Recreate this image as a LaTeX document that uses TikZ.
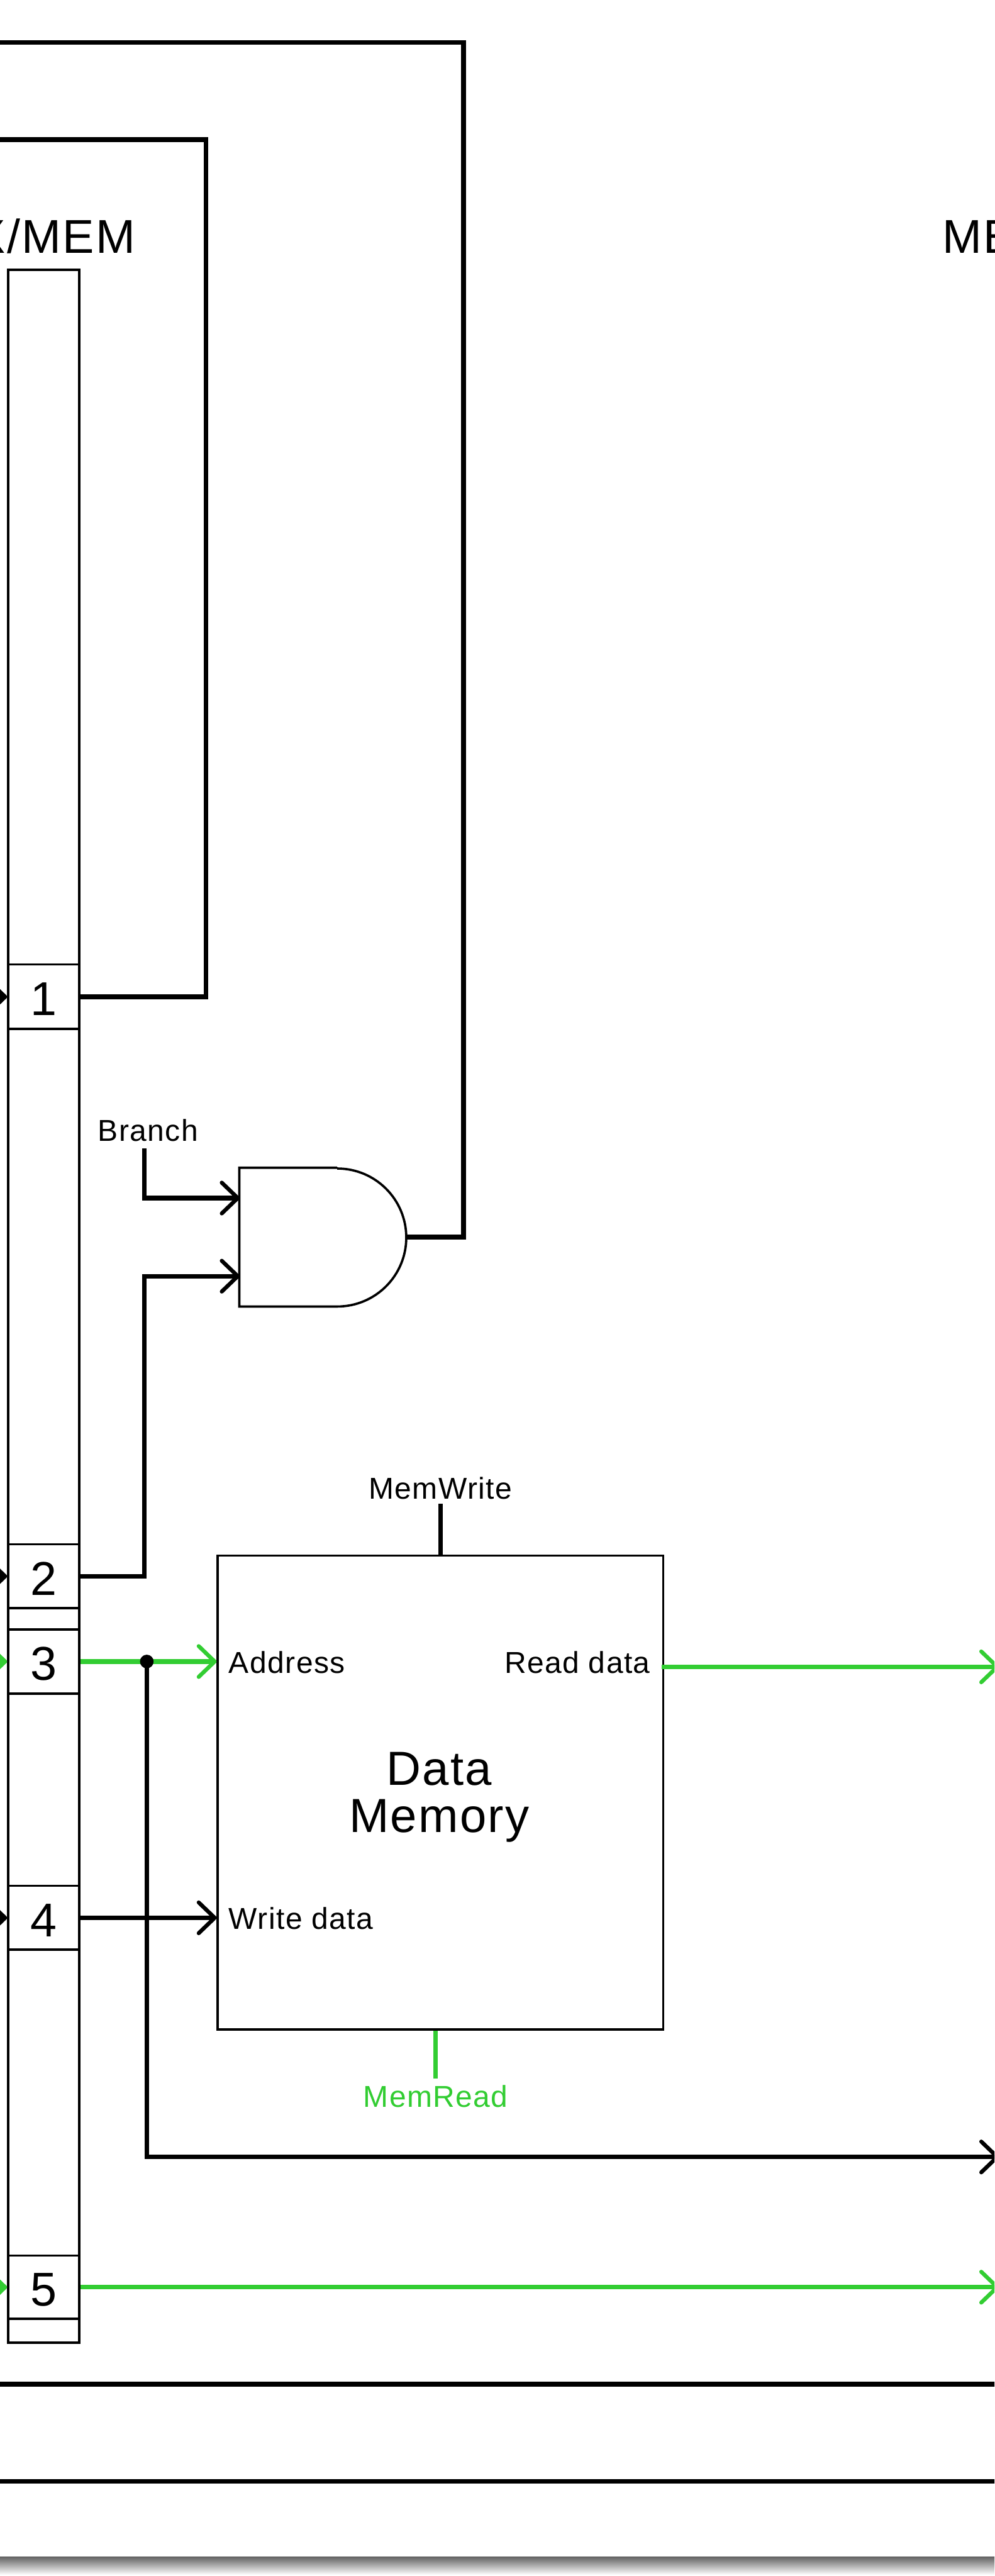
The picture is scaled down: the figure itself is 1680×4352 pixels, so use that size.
\documentclass[tikz,border=0pt]{standalone}
\usepackage{xcolor}
\usepackage{fontspec}
\setmainfont{Liberation Sans}[LetterSpace=3]
\usepackage{tikz}
\usetikzlibrary{positioning, arrows.meta}
\definecolor{sigread}{HTML}{32CD32}

\begin{document}
\begin{tikzpicture}[
      x=0.01cm, y=-0.01cm,
      outer/.style={draw, line width=1.1pt, minimum width=1.2cm, inner sep=0pt},
      cell/.style={draw, line width=1.1pt, minimum width=1.2cm, inner sep=0pt,
      text height=0.7cm, text depth=0.07cm, font=\fontsize{22.8pt}{26pt}\selectfont},
      block/.style={draw, line width=1.1pt, inner sep=0pt},
      lbl/.style={font=\fontsize{14.5pt}{17pt}\selectfont, inner sep=0pt},
      big/.style={font=\fontsize{23pt}{22.8pt}\selectfont, inner sep=0pt, align=center},
      wire/.style={line width=2.2pt},
      sig/.style={wire, -{Straight Barb[length=2.7mm, width=5.2mm, line width=1.9pt, round]}}
    ]
    \useasboundingbox (0,0) rectangle (1680,4352);
    \clip (0,0) rectangle (1680,4352);
    % page edge
    \fill[white] (0,0) rectangle (1680,4320);
    \shade[top color=black!60, bottom color=white] (0,4320) rectangle (1680,4350);

    % EX/MEM register
    \node[outer, minimum height=35cm, anchor=north] (exmem) at (74,454) {};
    \node[cell, minimum height=1.09cm] (one) at (74,1684) {1};
    \node[cell, minimum height=1.08cm] (two) at (74,2663) {2};
    \node[cell, minimum height=1.08cm] (three) at (74,2807) {3};
    \node[cell, minimum height=1.08cm] (four) at (74,3240) {4};
    \node[cell, minimum height=1.07cm] (five) at (74,3864) {5};
    \node[big, font=\fontsize{22.8pt}{26pt}\selectfont, anchor=base east] (regl) at (229,428) {X/MEM};
    \node[big, font=\fontsize{22.8pt}{26pt}\selectfont, anchor=base west] (regr) at (1591,428) {ME};

    % and gate
    \node[minimum width=1.64cm, minimum height=2.33cm, inner sep=0pt] (gate) at (487,2090) {};
    \draw[line width=1.1pt] (gate.north east) -- (gate.north west) -- (gate.south west)
    -- (gate.south east) arc[start angle=-90, end angle=90, radius=1.165cm];
    \coordinate (gatea) at (405,2024);
    \coordinate (gateb) at (405,2156);
    \coordinate (gateout) at (686,2090);
    \node[lbl, anchor=base] (branch) at (250,1928) {Branch};
    \coordinate (branchend) at (244,1940);

    % data memory
    \node[block, minimum width=7.52cm, minimum height=8cm, anchor=north west] (mem) at (366,2626) {};
    \node[big] (memname) at (742,3036) {Data\\Memory};
    \node[lbl, anchor=base west] (addr) at (386,2827) {Address};
    \node[lbl, anchor=base east] (rd) at (1099,2827) {Read data};
    \node[lbl, anchor=base west] (wd) at (386,3259) {Write data};
    \node[lbl, anchor=base] (mwrite) at (744,2532) {MemWrite};
    \node[lbl, anchor=base, text=sigread] (mread) at (736,3560) {MemRead};
    \coordinate (mwriteend) at (744,2540);
    \coordinate (mreadend) at (736,3511);

    % wires leaving the page
    \coordinate (ltop) at (-20,72);
    \coordinate (lsec) at (-20,236);
    \coordinate (rdout) at (1688,2816);
    \coordinate (aluout) at (1688,3644);
    \coordinate (fiveout) at (1688,3864);
    \coordinate (bota) at (-20,4028);
    \coordinate (botb) at (-20,4192);
    \coordinate (botc) at (1700,4028);
    \coordinate (botd) at (1700,4192);

    \draw[wire] (ltop) -| (783,2090) -- (gateout);
    \draw[wire] (lsec) -| (348,1684) -- (one.east);
    \draw[sig] (branchend) |- (gatea);
    \draw[sig] (two.east) -| (244,2156) -- (gateb);
    \draw[wire] (mem.north -| mwriteend) -- (mwriteend);
    \draw[wire, sigread] (mem.south -| mreadend) -- (mreadend);
    \draw[sig, sigread] (three.east) -- (three.east -| mem.west);
    \draw[sig] (four.east) -- (four.east -| mem.west);
    \draw[sig] (248,2807) |- (aluout);
    \fill (248,2807) circle[radius=0.115cm];
    \draw[sig, sigread] (rd.east |- rdout) ++(19,0) -- (rdout);
    \draw[sig, sigread] (five.east) -- (fiveout);
    \draw[wire] (bota) -- (botc);
    \draw[wire] (botb) -- (botd);

    % wires entering the register
    \foreach \c/\n in {black/one, sigread/three, black/two, black/four, sigread/five}
      \draw[sig, \c] (\n.west) ++(-40,0) -- (\n.west);
  \end{tikzpicture}
\end{document}
